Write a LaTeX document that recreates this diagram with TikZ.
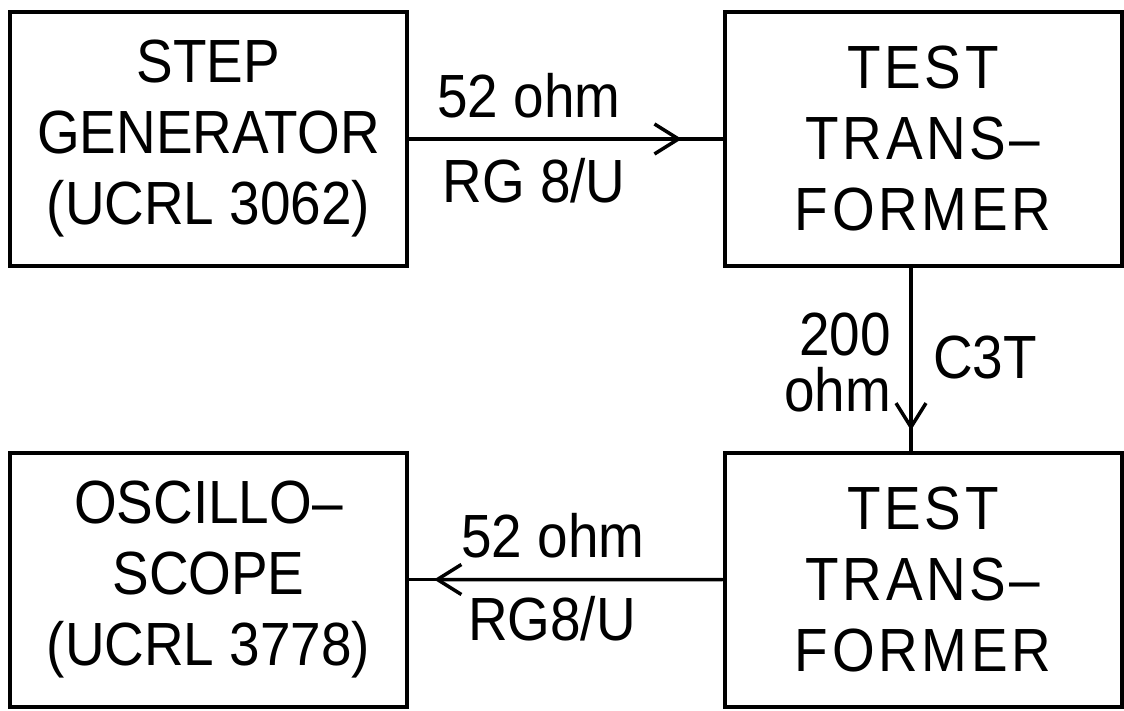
\documentclass[tikz,border=0pt]{standalone}
\usepackage{fontspec}
\setmainfont{Liberation Sans}[FakeStretch=0.9]
\usetikzlibrary{arrows.meta,calc}
\begin{document}
\begin{tikzpicture}[x=1pt,y=-1pt,
  blockbox/.style={draw,line width=4pt,minimum width=397pt,minimum height=254pt,
    inner sep=0pt,align=center,font=\fontsize{61}{71}\selectfont},
  spaced/.style={font=\fontsize{61}{71}\selectfont\addfontfeature{LetterSpace=6}},
  lbl/.style={inner sep=0pt,anchor=base,font=\fontsize{61}{71}\selectfont},
  wire/.style={line width=3.5pt},
  tipr/.style={line width=3.5pt,-{Straight Barb[length=24pt,width=30pt,line width=3.5pt]}}
]
\useasboundingbox (0,0) rectangle (1124,711);
\fill[white] (0,0) rectangle (1124,711);

\node[blockbox] (b1) at (208.5,139) {STEP\\GENERATOR\\(UCRL 3062)};
\node[blockbox,spaced] (b2) at (923,139) {TEST\\TRANS--\\FORMER};
\node[blockbox] (b3) at (208.5,579.5) {OSCILLO--\\SCOPE\\(UCRL 3778)};
\node[blockbox,spaced] (b4) at (923,579.5) {TEST\\TRANS--\\FORMER};

% top connector
\draw[wire] (b1.east) -- (b2.west);
\coordinate (t1) at ($(b1.east)!0.87!(b2.west)$);
\draw[tipr] (b1.east) -- (t1);
\node[lbl] (l1) at (529,118) {52 ohm};
\node[lbl] (l2) at (534,203) {RG 8/U};

% vertical connector
\coordinate (v1) at ([xshift=-12pt]b2.south);
\coordinate (v2) at ([xshift=-12pt]b4.north);
\draw[wire] (v1) -- (v2);
\coordinate (t2) at ($(v1)!0.89!(v2)$);
\draw[tipr] (v1) -- (t2);
\node[lbl,align=right,anchor=base east] (l3) at (891,411) {200\\[-15pt]ohm};
\node[lbl] (l4) at (985,378) {C3T};

% bottom connector
\draw[wire] (b4.west) -- (b3.east);
\coordinate (t3) at ($(b4.west)!0.92!(b3.east)$);
\draw[tipr] (b4.west) -- (t3);
\node[lbl] (l5) at (553,557) {52 ohm};
\node[lbl] (l6) at (552,640) {RG8/U};
\end{tikzpicture}
\end{document}
